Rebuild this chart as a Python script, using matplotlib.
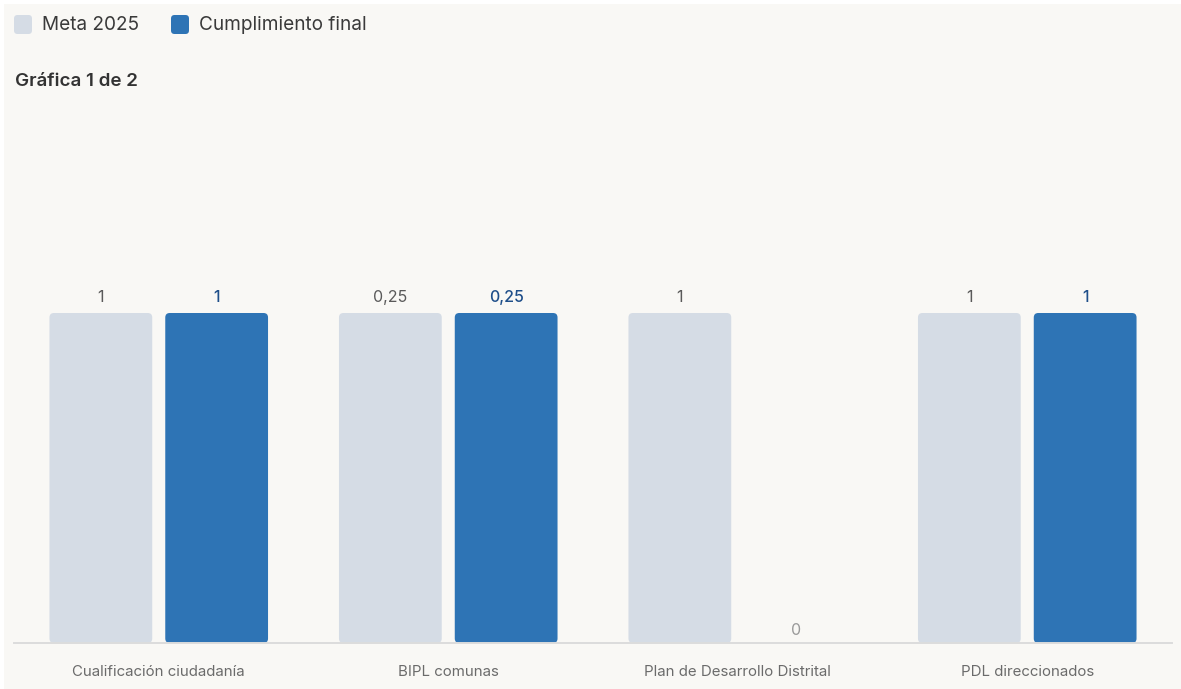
import matplotlib
matplotlib.use("Agg")
import matplotlib.pyplot as plt
from matplotlib.patches import FancyBboxPatch, Rectangle
import numpy as np

categories = ["Cualificación ciudadanía", "BIPL comunas",
              "Plan de Desarrollo Distrital", "PDL direccionados"]
meta_2025 = [1, 0.25, 1, 1]
cumplimiento = [1, 0.25, 0, 1]
series_names = ["Meta 2025", "Cumplimiento final"]
title_text = "Gráfica 1 de 2"

COL_META = "#d5dce5"
COL_CUMP = "#2e74b5"
BG = "#f9f8f5"

plt.rcParams["font.family"] = ["Inter", "DejaVu Sans"]

W, H = 1181, 689
fig = plt.figure(figsize=(W / 100, H / 100), dpi=100)
fig.patch.set_facecolor("white")
fig.add_artist(Rectangle((4 / W, 0), 1, 1 - 4 / H, transform=fig.transFigure,
                         facecolor=BG, edgecolor="none", zorder=-10))

# plot area in pixels
x0, x1 = 14, 1172
y_base, y_top = 643, 313
ax = fig.add_axes([x0 / W, (H - y_base) / H, (x1 - x0) / W, (y_base - y_top) / H])
ax.set_facecolor("none")
ax.set_xlim(-0.5, len(categories) - 0.5)
ax.set_ylim(0, 1)
for s in ["top", "right", "left"]:
    ax.spines[s].set_visible(False)
ax.spines["bottom"].set_color("#dcdcdc")
ax.spines["bottom"].set_linewidth(1.4)
ax.set_yticks([])
ax.tick_params(axis="x", length=0, pad=16)
x = np.arange(len(categories))
ax.set_xticks(x)
ax.set_xticklabels(categories, fontsize=10.8, color="#6b6b6b")

# each category is scaled to its own maximum
scale = [max(a, b) if max(a, b) > 0 else 1 for a, b in zip(meta_2025, cumplimiento)]
h_meta = [v / s for v, s in zip(meta_2025, scale)]
h_cump = [v / s for v, s in zip(cumplimiento, scale)]

off, width = 0.2, 0.355
px_per_x = (x1 - x0) / (len(categories))
px_per_y = (y_base - y_top)
rad_px = 4.5


def fmt(v):
    return ("%g" % v).replace(".", ",")


def rounded_bars(bars, color):
    for b in bars:
        h = b.get_height()
        b.set_visible(False)
        if h <= 0:
            continue
        rx = rad_px / px_per_x
        patch = FancyBboxPatch((b.get_x(), b.get_y()), b.get_width(), h,
                               boxstyle="round,pad=0,rounding_size=%f" % rx,
                               mutation_aspect=(px_per_x / px_per_y),
                               facecolor=color, edgecolor="none", zorder=2)
        ax.add_patch(patch)


b1 = ax.bar(x - off, h_meta, width, color=COL_META)
b2 = ax.bar(x + off, h_cump, width, color=COL_CUMP)
rounded_bars(b1, COL_META)
rounded_bars(b2, COL_CUMP)

for xi, hv, v in zip(x, h_meta, meta_2025):
    ax.annotate(fmt(v), (xi - off, hv), xytext=(0, 6), textcoords="offset points",
                ha="center", va="bottom", fontsize=11.5, color="#5a5a5a")
for xi, hv, v in zip(x, h_cump, cumplimiento):
    ax.annotate(fmt(v), (xi + off, hv), xytext=(0, 6 if v > 0 else 3.5),
                textcoords="offset points",
                ha="center", va="bottom", fontsize=11.5,
                color="#1f4f8a" if v > 0 else "#9a9a9a",
                fontweight="medium" if v > 0 else "normal")

# legend
for name, col, lx in zip(series_names, [COL_META, COL_CUMP], [14, 171]):
    fig.add_artist(FancyBboxPatch((lx / W, (H - 34) / H), 18 / W, 19 / H,
                                  boxstyle="round,pad=0,rounding_size=0.003",
                                  mutation_aspect=W / H,
                                  transform=fig.transFigure, facecolor=col,
                                  edgecolor="none"))
    fig.text((lx + 28) / W, (H - 25) / H, name, fontsize=13.7, color="#3a3a3a",
             ha="left", va="center")

fig.text(15 / W, (H - 82) / H, title_text, fontsize=13.5, color="#333333",
         fontweight="semibold", ha="left", va="center")

fig.savefig("out.png", dpi=100, facecolor=fig.get_facecolor())
